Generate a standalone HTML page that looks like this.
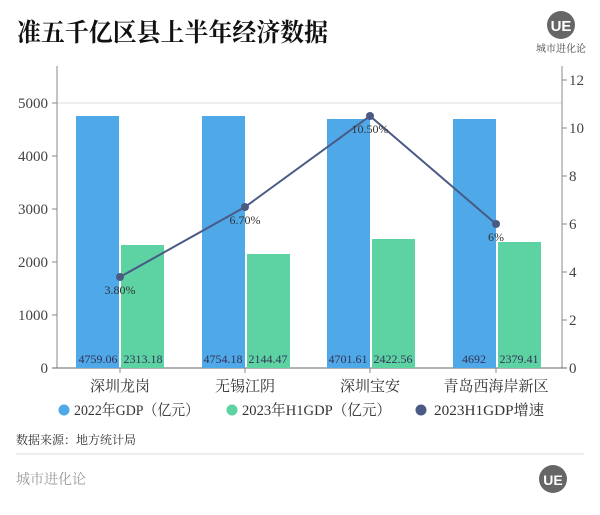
<!DOCTYPE html>
<html><head><meta charset="utf-8"><style>
body{margin:0;width:600px;height:510px;background:#fff;overflow:hidden;font-family:"Liberation Serif","Noto Serif CJK SC",serif;}
</style></head><body>
<svg width="600" height="510" xmlns="http://www.w3.org/2000/svg" font-family="'Liberation Serif','Noto Serif CJK SC',serif">
<text x="17" y="41" font-size="25" font-weight="bold" fill="#111" textLength="311" lengthAdjust="spacingAndGlyphs">准五千亿区县上半年经济数据</text>
<circle cx="561" cy="25" r="14" fill="#666"/>
<text x="561" y="31" font-size="15" fill="#fff" text-anchor="middle" font-family="Liberation Sans,sans-serif" font-weight="bold">UE</text>
<text x="561" y="52" font-size="10" fill="#444" text-anchor="middle">城市进化论</text>
<line x1="57" y1="103" x2="562" y2="103" stroke="#ddd"/>
<line x1="57" y1="66" x2="57" y2="368" stroke="#888"/>
<line x1="562" y1="66" x2="562" y2="368" stroke="#888"/>
<line x1="52" y1="368" x2="567" y2="368" stroke="#666"/>
<g font-size="15" fill="#444" text-anchor="end">
<text x="48" y="108">5000</text><text x="48" y="161">4000</text><text x="48" y="214">3000</text><text x="48" y="267">2000</text><text x="48" y="320">1000</text><text x="48" y="373">0</text></g>
<g stroke="#888"><line x1="52" y1="103" x2="57" y2="103"/><line x1="52" y1="156" x2="57" y2="156"/><line x1="52" y1="209" x2="57" y2="209"/><line x1="52" y1="262" x2="57" y2="262"/><line x1="52" y1="315" x2="57" y2="315"/>
<line x1="562" y1="80" x2="567" y2="80"/><line x1="562" y1="128" x2="567" y2="128"/><line x1="562" y1="176" x2="567" y2="176"/><line x1="562" y1="224" x2="567" y2="224"/><line x1="562" y1="272" x2="567" y2="272"/><line x1="562" y1="320" x2="567" y2="320"/>
<line x1="120" y1="368" x2="120" y2="373"/><line x1="245" y1="368" x2="245" y2="373"/><line x1="370" y1="368" x2="370" y2="373"/><line x1="496" y1="368" x2="496" y2="373"/></g>
<g font-size="15" fill="#444"><text x="569" y="85">12</text><text x="569" y="133">10</text><text x="569" y="181">8</text><text x="569" y="229">6</text><text x="569" y="277">4</text><text x="569" y="325">2</text><text x="569" y="373">0</text></g>
<g fill="#4fa8e8">
<rect x="76" y="116" width="43" height="252"/><rect x="202" y="116" width="43" height="252"/><rect x="327" y="119" width="43" height="249"/><rect x="453" y="119" width="43" height="249"/></g>
<g fill="#5dd3a3">
<rect x="121" y="245" width="43" height="123"/><rect x="247" y="254" width="43" height="114"/><rect x="372" y="239" width="43" height="129"/><rect x="498" y="242" width="43" height="126"/></g>
<g font-size="12" fill="#335" text-anchor="middle">
<text x="98" y="363">4759.06</text><text x="143" y="363">2313.18</text><text x="223" y="363">4754.18</text><text x="268" y="363">2144.47</text><text x="348" y="363">4701.61</text><text x="393" y="363">2422.56</text><text x="474" y="363">4692</text><text x="519" y="363">2379.41</text></g>
<polyline points="120,277 245,207 370,116 496,224" fill="none" stroke="#4a5a85" stroke-width="2"/>
<g fill="#4a5a85"><circle cx="120" cy="277" r="4"/><circle cx="245" cy="207" r="4"/><circle cx="370" cy="116" r="4"/><circle cx="496" cy="224" r="4"/></g>
<g font-size="12" fill="#333" text-anchor="middle"><text x="120" y="294">3.80%</text><text x="245" y="224">6.70%</text><text x="370" y="133">10.50%</text><text x="496" y="241">6%</text></g>
<g font-size="15" fill="#333" text-anchor="middle"><text x="120" y="391">深圳龙岗</text><text x="245" y="391">无锡江阴</text><text x="370" y="391">深圳宝安</text><text x="496" y="391">青岛西海岸新区</text></g>
<circle cx="64" cy="410" r="5.5" fill="#4fa8e8"/><circle cx="232" cy="410" r="5.5" fill="#5dd3a3"/><circle cx="421" cy="410" r="5.5" fill="#4a5a85"/>
<g font-size="15" fill="#333"><text x="74" y="415" textLength="125" lengthAdjust="spacingAndGlyphs">2022年GDP（亿元）</text><text x="242" y="415" textLength="149" lengthAdjust="spacingAndGlyphs">2023年H1GDP（亿元）</text><text x="434" y="415" textLength="110" lengthAdjust="spacingAndGlyphs">2023H1GDP增速</text></g>
<text x="16" y="444" font-size="12" fill="#333">数据来源：地方统计局</text>
<line x1="16" y1="454" x2="584" y2="454" stroke="#ddd"/>
<text x="16" y="484" font-size="14" fill="#999">城市进化论</text>
<circle cx="553" cy="479" r="14" fill="#666"/>
<text x="553" y="485" font-size="14" fill="#fff" text-anchor="middle" font-family="Liberation Sans,sans-serif" font-weight="bold">UE</text>
</svg>
</body></html>
